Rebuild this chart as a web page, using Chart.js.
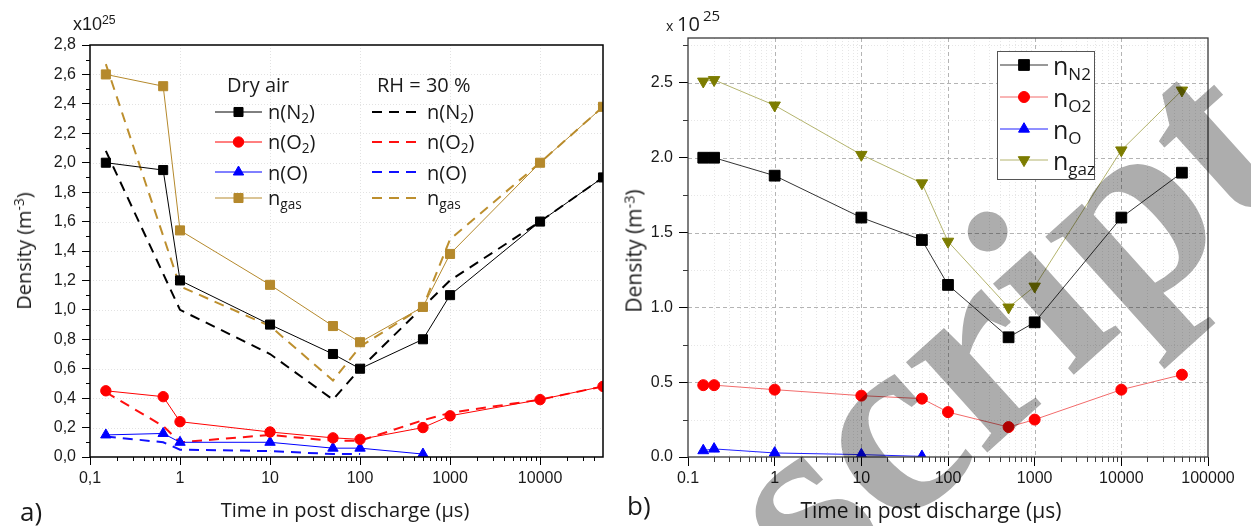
<!DOCTYPE html>
<html>
<head>
<meta charset="utf-8">
<title>Density in post discharge</title>
<script src="https://cdn.jsdelivr.net/npm/chart.js@4.4.1/dist/chart.umd.min.js"></script>
<style>
  html, body { margin: 0; padding: 0; background: #fff; }
  #page { position: relative; width: 1251px; height: 526px; overflow: hidden; }
  canvas { position: absolute; top: 0; }
  #cA { left: 0; }
  #cB { left: 620px; }
  .t { position: absolute; white-space: nowrap; color: #1a1a1a; font-family: 'Open Sans', sans-serif; line-height: 1; }
  .t sub { font-size: 68%; vertical-align: -0.32em; line-height: 0; }
  .t sup { font-size: 68%; vertical-align: 0.5em; line-height: 0; }
  .mid { transform: translateY(-50%); }
  .ctr { transform: translate(-50%, -50%); }
  .vert { transform: translate(-50%, -50%) rotate(-90deg); }
  .la { font-size: 20px; }
  .lb { font-size: 25px; }
  #mark { position: absolute; left: 0; top: 0; mix-blend-mode: multiply; pointer-events: none; }
</style>
</head>
<body>
<div id="page">
  <canvas id="cA" width="620" height="526"></canvas>
  <canvas id="cB" width="631" height="526"></canvas>

  <!-- panel a -->
  <div class="t mid" style="left:73px;top:24px;font-family:'Liberation Sans';font-size:18px">x10<sup>25</sup></div>
  <div class="t vert" style="left:24px;top:251px;font-size:20px">Density (m<sup>-3</sup>)</div>
  <div class="t ctr" style="left:345px;top:510px;font-size:20px">Time in post discharge (µs)</div>
  <div class="t mid" style="left:20px;top:511px;font-size:26px">a)</div>
  <div class="t mid la" style="left:227px;top:85px">Dry air</div>
  <div class="t mid la" style="left:377px;top:85px">RH = 30 %</div>
  <div class="t mid la" style="left:268px;top:112px">n(N<sub>2</sub>)</div>
  <div class="t mid la" style="left:268px;top:142px">n(O<sub>2</sub>)</div>
  <div class="t mid la" style="left:268px;top:173px">n(O)</div>
  <div class="t mid la" style="left:268px;top:198px">n<sub>gas</sub></div>
  <div class="t mid la" style="left:427px;top:112px">n(N<sub>2</sub>)</div>
  <div class="t mid la" style="left:427px;top:142px">n(O<sub>2</sub>)</div>
  <div class="t mid la" style="left:427px;top:173px">n(O)</div>
  <div class="t mid la" style="left:427px;top:198px">n<sub>gas</sub></div>

  <!-- panel b -->
  <div class="t mid" style="left:666px;top:26px;font-size:14px">x</div>
  <div class="t mid" style="left:677px;top:24px;font-size:20px">10</div>
  <div class="t mid" style="left:703px;top:15px;font-size:15px">25</div>
  <div class="t vert" style="left:634px;top:251px;font-size:21px">Density (m<sup>-3</sup>)</div>
  <div class="t ctr" style="left:931px;top:510px;font-size:21px">Time in post discharge (µs)</div>
  <div class="t mid" style="left:627px;top:505px;font-size:26px">b)</div>
  <div class="t mid lb" style="left:1053px;top:65px">n<sub>N2</sub></div>
  <div class="t mid lb" style="left:1053px;top:97px">n<sub>O2</sub></div>
  <div class="t mid lb" style="left:1053px;top:129px">n<sub>O</sub></div>
  <div class="t mid lb" style="left:1053px;top:160px">n<sub>gaz</sub></div>

  <svg id="mark" width="1251" height="526">
    <text x="818" y="605" font-family="Liberation Serif" font-weight="bold" font-size="265" fill="#adadad"
          transform="rotate(-42 818 605)">script</text>
  </svg>
</div>

<script>
// densities in units of 1e25 m^-3, times in µs

// (a) dry air
const timeDry = [0.15, 0.65, 1, 10, 50, 100, 500, 1000, 10000, 50000];
const dryN2 = [2.0, 1.95, 1.2, 0.9, 0.7, 0.6, 0.8, 1.1, 1.6, 1.9];
const dryO2 = [0.45, 0.41, 0.24, 0.17, 0.13, 0.12, 0.2, 0.28, 0.39, 0.48];
const dryGas = [2.6, 2.52, 1.54, 1.17, 0.89, 0.78, 1.02, 1.38, 2.0, 2.38];
const timeDryO = [0.15, 0.65, 1, 10, 50, 100, 500];
const dryO = [0.15, 0.16, 0.10, 0.10, 0.06, 0.06, 0.02];

// (a) RH = 30 %
const timeWet = [0.15, 1, 10, 50, 100, 500, 1000, 10000, 50000];
const wetN2 = [2.08, 1.0, 0.7, 0.39, 0.6, 1.02, 1.2, 1.6, 1.9];
const wetGas = [2.67, 1.16, 0.89, 0.52, 0.75, 1.02, 1.48, 2.0, 2.38];
const timeWetO2 = [0.15, 0.65, 1, 10, 50, 100, 500, 1000, 10000, 50000];
const wetO2 = [0.44, 0.21, 0.1, 0.15, 0.11, 0.11, 0.25, 0.3, 0.39, 0.48];
const timeWetO = [0.15, 0.65, 1, 10, 50, 100];
const wetO = [0.14, 0.10, 0.05, 0.04, 0.02, 0.02];

// (b)
const timeB = [0.15, 0.2, 1, 10, 50, 100, 500, 1000, 10000, 50000];
const bN2 = [2.0, 2.0, 1.88, 1.6, 1.45, 1.15, 0.8, 0.9, 1.6, 1.9];
const bO2 = [0.48, 0.48, 0.45, 0.41, 0.39, 0.3, 0.2, 0.25, 0.45, 0.55];
const bGaz = [2.51, 2.52, 2.35, 2.02, 1.83, 1.44, 1.0, 1.14, 2.05, 2.45];
const timeBO = [0.15, 0.2, 1, 10, 50];
const bO = [0.043, 0.054, 0.027, 0.016, 0.004];

// axis ticks
const xTicksA = [0.1, 1, 10, 100, 1000, 10000];
const xLabelsA = ['0,1', '1', '10', '100', '1000', '10000'];
const yTicksA = [0, 0.2, 0.4, 0.6, 0.8, 1.0, 1.2, 1.4, 1.6, 1.8, 2.0, 2.2, 2.4, 2.6, 2.8];
const xTicksB = [0.1, 1, 10, 100, 1000, 10000, 100000];
const xLabelsB = ['0.1', '1', '10', '100', '1000', '10000', '100000'];
const yTicksB = [0, 0.5, 1.0, 1.5, 2.0, 2.5];

const GOLD = '#b5892c';
const OLIVE = '#7c7c00';

function pts(xs, ys) {
  return xs.map((x, i) => ({ x: x, y: ys[i] }));
}

function logMinors(min, max) {
  const out = [];
  for (let e = -2; e <= 6; e++) {
    for (let k = 2; k <= 9; k++) {
      const v = k * Math.pow(10, e);
      if (v > min && v < max) out.push(v);
    }
  }
  return out;
}

function linMinors(min, max, step, skip) {
  const out = [];
  for (let v = min + step; v < max - 1e-9; v += step) {
    const r = Math.round(v * 1000) / 1000;
    if (!skip.some(s => Math.abs(s - r) < 1e-6)) out.push(r);
  }
  return out;
}

// grid lines behind the data, frame and minor ticks on top
const frameGrid = {
  id: 'frameGrid',
  beforeDatasetsDraw(chart, args, o) {
    const { ctx, chartArea: a, scales: { x, y } } = chart;
    ctx.save();
    const lines = (xs, ys, st) => {
      if (!st) return;
      ctx.strokeStyle = st.color;
      ctx.lineWidth = 1;
      ctx.setLineDash(st.dash);
      ctx.beginPath();
      xs.forEach(v => {
        const px = Math.round(x.getPixelForValue(v)) + 0.5;
        ctx.moveTo(px, a.top);
        ctx.lineTo(px, a.bottom);
      });
      ys.forEach(v => {
        const py = Math.round(y.getPixelForValue(v)) + 0.5;
        ctx.moveTo(a.left, py);
        ctx.lineTo(a.right, py);
      });
      ctx.stroke();
    };
    lines(o.xMinor || [], o.yMinor || [], o.minor);
    lines(o.xMajor || [], o.yMajor || [], o.major);
    ctx.restore();
  },
  afterDatasetsDraw(chart, args, o) {
    const { ctx, chartArea: a, scales: { x, y } } = chart;
    ctx.save();
    ctx.strokeStyle = o.frame;
    ctx.lineWidth = o.frameWidth;
    ctx.setLineDash([]);
    ctx.strokeRect(a.left, a.top, a.right - a.left, a.bottom - a.top);
    ctx.lineWidth = 1;
    ctx.beginPath();
    (o.xMinor || []).forEach(v => {
      const px = Math.round(x.getPixelForValue(v)) + 0.5;
      ctx.moveTo(px, a.bottom);
      ctx.lineTo(px, a.bottom + o.minorLen);
    });
    (o.yMinorTicks || []).forEach(v => {
      const py = Math.round(y.getPixelForValue(v)) + 0.5;
      ctx.moveTo(a.left, py);
      ctx.lineTo(a.left - o.minorLen, py);
    });
    ctx.stroke();
    ctx.restore();
  }
};

// legend samples (line + marker) drawn from the dataset styles
const sampleLegend = {
  id: 'sampleLegend',
  afterDraw(chart, args, o) {
    if (!o.entries) return;
    const ctx = chart.ctx;
    ctx.save();
    if (o.box) {
      const b = o.box;
      ctx.fillStyle = '#fff';
      ctx.fillRect(b[0], b[1], b[2] - b[0], b[3] - b[1]);
      ctx.strokeStyle = '#555';
      ctx.lineWidth = 1;
      ctx.strokeRect(b[0] + 0.5, b[1] + 0.5, b[2] - b[0], b[3] - b[1]);
    }
    o.entries.forEach(en => {
      const ds = chart.data.datasets[en.ds];
      ctx.strokeStyle = ds.borderColor;
      ctx.lineWidth = ds.borderWidth;
      ctx.setLineDash(ds.borderDash || []);
      ctx.beginPath();
      ctx.moveTo(en.x0, en.y);
      ctx.lineTo(en.x1, en.y);
      ctx.stroke();
      ctx.setLineDash([]);
      if (ds.pointRadius > 0) {
        ctx.fillStyle = ds.pointBackgroundColor;
        ctx.strokeStyle = ds.pointBorderColor;
        ctx.lineWidth = 1;
        Chart.helpers.drawPoint(ctx, {
          pointStyle: ds.pointStyle,
          rotation: ds.pointRotation || 0,
          radius: ds.pointRadius,
          borderWidth: 1
        }, (en.x0 + en.x1) / 2, en.y);
      }
    });
    ctx.restore();
  }
};

Chart.register(frameGrid, sampleLegend);
Chart.defaults.font.family = "'Liberation Sans', Arial, sans-serif";

function dryLine(xs, ys, color, style, radius, rot) {
  return {
    data: pts(xs, ys), borderColor: color, borderWidth: 1,
    pointStyle: style, pointRotation: rot || 0, pointRadius: radius,
    pointBackgroundColor: color, pointBorderColor: color, pointBorderWidth: 1,
    clip: 0
  };
}

function wetLine(xs, ys, color) {
  return {
    data: pts(xs, ys), borderColor: color, borderWidth: 2,
    borderDash: [10, 7], pointRadius: 0, clip: 0
  };
}

function logAxis(min, max, ticks, labels, font, tickLen, pad, height) {
  return {
    type: 'logarithmic', min: min, max: max,
    afterBuildTicks: s => { s.ticks = ticks.map(v => ({ value: v })); },
    afterFit: s => { s.height = height; },
    ticks: {
      callback: (v, i) => labels[i], font: font, color: '#1a1a1a',
      maxRotation: 0, autoSkip: false, padding: pad
    },
    grid: { drawOnChartArea: false, tickLength: tickLen, tickColor: '#000', tickWidth: 1 },
    border: { display: false }
  };
}

function linAxis(min, max, ticks, fmt, font, tickLen, pad, width) {
  return {
    type: 'linear', min: min, max: max,
    afterBuildTicks: s => { s.ticks = ticks.map(v => ({ value: v })); },
    afterFit: s => { s.width = width; },
    ticks: { callback: fmt, font: font, color: '#1a1a1a', padding: pad },
    grid: { drawOnChartArea: false, tickLength: tickLen, tickColor: '#000', tickWidth: 1 },
    border: { display: false }
  };
}

const common = {
  responsive: false, animation: false, devicePixelRatio: 1, events: [],
  elements: { line: { tension: 0 } }
};

// (a) dry air vs RH = 30 %
new Chart(document.getElementById('cA'), {
  type: 'line',
  data: {
    datasets: [
      dryLine(timeDry, dryN2, '#000', 'rect', 6.4),
      dryLine(timeDry, dryO2, '#ff0000', 'circle', 5.2),
      dryLine(timeDryO, dryO, '#0000ff', 'triangle', 6),
      dryLine(timeDry, dryGas, GOLD, 'rect', 6.4),
      wetLine(timeWet, wetN2, '#000'),
      wetLine(timeWetO2, wetO2, '#ff1010'),
      wetLine(timeWetO, wetO, '#1010ff'),
      wetLine(timeWet, wetGas, '#bd8f2e')
    ]
  },
  options: Object.assign({}, common, {
    layout: { padding: { top: 45, right: 17, left: 0, bottom: 0 } },
    scales: {
      x: logAxis(0.1, 50000, xTicksA, xLabelsA, { size: 16 }, 8, 4, 69),
      y: linAxis(0, 2.8, yTicksA, v => v.toFixed(1).replace('.', ','), { size: 16 }, 8, 6, 90)
    },
    plugins: {
      legend: { display: false }, tooltip: { enabled: false },
      frameGrid: {
        frame: '#000', frameWidth: 1.5, minorLen: 4,
        major: { color: '#e2e2e2', dash: [1, 2] },
        xMajor: xTicksA.slice(1), yMajor: yTicksA.slice(1, -1),
        xMinor: logMinors(0.1, 50000),
        yMinorTicks: linMinors(0, 2.8, 0.1, yTicksA)
      },
      sampleLegend: {
        entries: [
          { ds: 0, x0: 215, x1: 262, y: 112 },
          { ds: 1, x0: 215, x1: 262, y: 142 },
          { ds: 2, x0: 215, x1: 262, y: 172 },
          { ds: 3, x0: 215, x1: 262, y: 198 },
          { ds: 4, x0: 372, x1: 422, y: 112 },
          { ds: 5, x0: 372, x1: 422, y: 142 },
          { ds: 6, x0: 372, x1: 422, y: 172 },
          { ds: 7, x0: 372, x1: 422, y: 198 }
        ]
      }
    }
  })
});

// (b)
function bLine(xs, ys, line, marker, style, radius, rot) {
  return {
    data: pts(xs, ys), borderColor: line, borderWidth: 1,
    pointStyle: style, pointRotation: rot || 0, pointRadius: radius,
    pointBackgroundColor: marker, pointBorderColor: marker, pointBorderWidth: 1
  };
}

new Chart(document.getElementById('cB'), {
  type: 'line',
  data: {
    datasets: [
      bLine(timeB, bN2, '#333', '#000', 'rect', 7.6),
      bLine(timeB, bO2, '#f26b6b', '#ff0000', 'circle', 5.5),
      bLine(timeBO, bO, '#2020ff', '#0000ff', 'triangle', 6.3),
      bLine(timeB, bGaz, '#b4b46e', OLIVE, 'triangle', 6.6, 180)
    ]
  },
  options: Object.assign({}, common, {
    layout: { padding: { top: 38, right: 43, left: 0, bottom: 0 } },
    scales: {
      x: logAxis(0.1, 100000, xTicksB, xLabelsB, { size: 16 }, 9, 3, 69),
      y: linAxis(0, 2.8, yTicksB, v => v.toFixed(1), { size: 16 }, 9, 6, 68)
    },
    plugins: {
      legend: { display: false }, tooltip: { enabled: false },
      frameGrid: {
        frame: '#3a3a3a', frameWidth: 1.3, minorLen: 5,
        major: { color: '#b4b4b4', dash: [4, 3] },
        minor: { color: '#e6e6e6', dash: [1, 2] },
        xMajor: xTicksB.slice(1, -1), yMajor: yTicksB.slice(1),
        xMinor: logMinors(0.1, 100000),
        yMinor: [0.25, 0.75, 1.25, 1.75, 2.25, 2.75],
        yMinorTicks: [0.25, 0.75, 1.25, 1.75, 2.25, 2.75]
      },
      sampleLegend: {
        box: [377, 51, 474, 179],
        entries: [
          { ds: 0, x0: 380, x1: 428, y: 65 },
          { ds: 1, x0: 380, x1: 428, y: 97 },
          { ds: 2, x0: 380, x1: 428, y: 129 },
          { ds: 3, x0: 380, x1: 428, y: 160 }
        ]
      }
    }
  })
});
</script>
</body>
</html>
